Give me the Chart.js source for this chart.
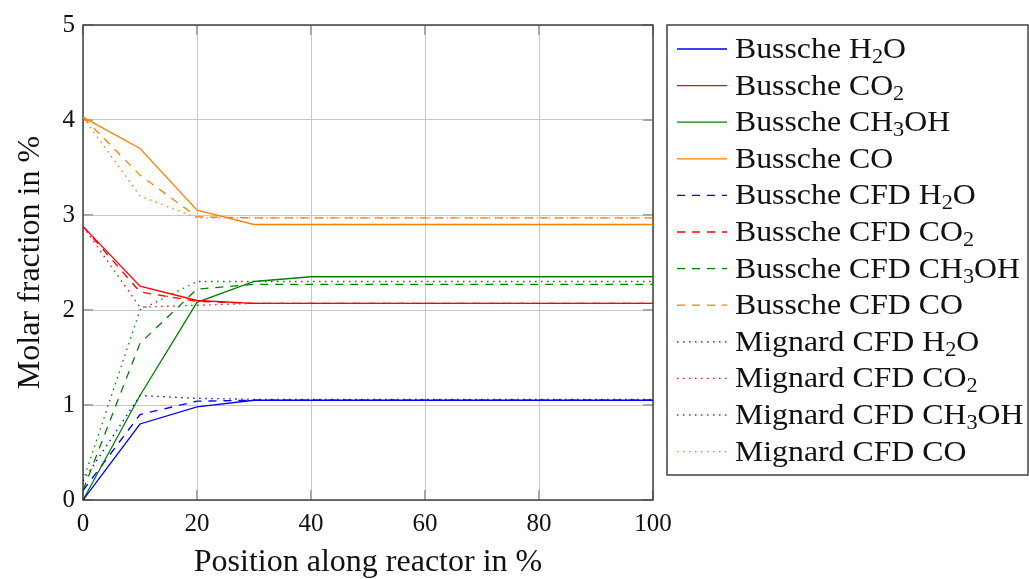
<!DOCTYPE html>
<html lang="en">
<head>
  <meta charset="UTF-8">
  <title>Molar fraction along reactor</title>
  <script src="https://cdn.jsdelivr.net/npm/chart.js"></script>
  <style>
    body { margin: 0; background: #fff; }
    #molarChart { display: block; }
  </style>
</head>
<body>
<canvas id="molarChart" width="1029" height="579"></canvas>
<script>
  // positions along the reactor (%)
  var positions = [0, 10, 20, 30, 40, 50, 60, 70, 80, 90, 100];

  // Bussche kinetic model
  var busscheH2O   = [0, 0.80, 0.98, 1.05, 1.05, 1.05, 1.05, 1.05, 1.05, 1.05, 1.05];
  var busscheCO2   = [2.88, 2.25, 2.10, 2.07, 2.07, 2.07, 2.07, 2.07, 2.07, 2.07, 2.07];
  var busscheCH3OH = [0, 1.10, 2.08, 2.30, 2.35, 2.35, 2.35, 2.35, 2.35, 2.35, 2.35];
  var busscheCO    = [4.03, 3.70, 3.05, 2.90, 2.90, 2.90, 2.90, 2.90, 2.90, 2.90, 2.90];

  // Bussche CFD
  var cfdH2O   = [0.10, 0.90, 1.04, 1.05, 1.05, 1.05, 1.05, 1.05, 1.05, 1.05, 1.05];
  var cfdCO2   = [2.88, 2.19, 2.09, 2.07, 2.07, 2.07, 2.07, 2.07, 2.07, 2.07, 2.07];
  var cfdCH3OH = [0.10, 1.65, 2.22, 2.27, 2.27, 2.27, 2.27, 2.27, 2.27, 2.27, 2.27];
  var cfdCO    = [4.03, 3.42, 2.98, 2.97, 2.97, 2.97, 2.97, 2.97, 2.97, 2.97, 2.97];

  // Mignard CFD
  var mignardH2O   = [0.20, 1.10, 1.07, 1.06, 1.06, 1.06, 1.06, 1.06, 1.06, 1.06, 1.06];
  var mignardCO2   = [2.88, 2.03, 2.05, 2.07, 2.07, 2.07, 2.07, 2.07, 2.07, 2.07, 2.07];
  var mignardCH3OH = [0.20, 2.00, 2.30, 2.30, 2.30, 2.30, 2.30, 2.30, 2.30, 2.30, 2.30];
  var mignardCO    = [4.03, 3.20, 2.97, 2.97, 2.97, 2.97, 2.97, 2.97, 2.97, 2.97, 2.97];

  var xTicks = [0, 20, 40, 60, 80, 100];
  var yTicks = [0, 1, 2, 3, 4, 5];

  // "_" marks the next character as a subscript
  var seriesLabels = [
    'Bussche H_2O', 'Bussche CO_2', 'Bussche CH_3OH', 'Bussche CO',
    'Bussche CFD H_2O', 'Bussche CFD CO_2', 'Bussche CFD CH_3OH', 'Bussche CFD CO',
    'Mignard CFD H_2O', 'Mignard CFD CO_2', 'Mignard CFD CH_3OH', 'Mignard CFD CO'
  ];

  var blue = '#0000ff', red = '#ff0000', green = '#008000', orange = '#ff8000';
  var DASHED = [8, 7];
  var DOTTED = [1.5, 4.5];
  var serif = "'Liberation Serif', 'DejaVu Serif', serif";

  function toPoints(values) {
    return values.map(function (v, i) { return { x: positions[i], y: v }; });
  }

  function series(label, values, color, dash) {
    return {
      label: label,
      data: toPoints(values),
      borderColor: color,
      backgroundColor: color,
      borderWidth: 1.3,
      borderDash: dash,
      pointRadius: 0,
      tension: 0,
      fill: false
    };
  }

  var datasets = [
    series(seriesLabels[0], busscheH2O, blue, []),
    series(seriesLabels[1], busscheCO2, red, []),
    series(seriesLabels[2], busscheCH3OH, green, []),
    series(seriesLabels[3], busscheCO, orange, []),
    series(seriesLabels[4], cfdH2O, blue, DASHED),
    series(seriesLabels[5], cfdCO2, red, DASHED),
    series(seriesLabels[6], cfdCH3OH, green, DASHED),
    series(seriesLabels[7], cfdCO, orange, DASHED),
    series(seriesLabels[8], mignardH2O, blue, DOTTED),
    series(seriesLabels[9], mignardCO2, red, DOTTED),
    series(seriesLabels[10], mignardCH3OH, green, DOTTED),
    series(seriesLabels[11], mignardCO, orange, DOTTED)
  ];

  // draws text where "_x" puts x as subscript (x,y are in the scaled space)
  function drawSubText(ctx, text, x, y, size) {
    var i = 0;
    while (i < text.length) {
      var ch = text[i];
      if (ch === '_' && i + 1 < text.length) {
        ctx.font = Math.round(size * 0.7) + 'px ' + serif;
        ctx.fillText(text[i + 1], x, y + 5);
        x += ctx.measureText(text[i + 1]).width;
        i += 2;
      } else {
        ctx.font = size + 'px ' + serif;
        ctx.fillText(ch, x, y);
        x += ctx.measureText(ch).width;
        i += 1;
      }
    }
  }

  // frame + inner tick marks, drawn under the lines
  var framePlugin = {
    id: 'frame',
    beforeDatasetsDraw: function (chart) {
      var ctx = chart.ctx, a = chart.chartArea;
      var xs = chart.scales.x, ys = chart.scales.y;
      ctx.save();
      ctx.strokeStyle = '#a8a8a8';
      ctx.lineWidth = 2;
      xTicks.forEach(function (t) {
        var px = xs.getPixelForValue(t);
        ctx.beginPath();
        ctx.moveTo(px, a.bottom); ctx.lineTo(px, a.bottom - 10);
        ctx.moveTo(px, a.top); ctx.lineTo(px, a.top + 10);
        ctx.stroke();
      });
      yTicks.forEach(function (t) {
        var py = ys.getPixelForValue(t);
        ctx.beginPath();
        ctx.moveTo(a.left, py); ctx.lineTo(a.left + 10, py);
        ctx.moveTo(a.right, py); ctx.lineTo(a.right - 10, py);
        ctx.stroke();
      });
      ctx.strokeStyle = '#404040';
      ctx.lineWidth = 1.5;
      ctx.strokeRect(a.left, a.top, a.right - a.left, a.bottom - a.top);
      ctx.restore();
    }
  };

  // legend box with subscripts
  var legendPlugin = {
    id: 'subLegend',
    afterDraw: function (chart) {
      var ctx = chart.ctx;
      var boxX = 667, boxY = 25, boxW = 361, boxH = 450;
      var rowY0 = 49, rowStep = 36.6;
      var stretch = 1.06;
      ctx.save();
      ctx.fillStyle = '#fff';
      ctx.fillRect(boxX, boxY, boxW, boxH);
      ctx.strokeStyle = '#404040';
      ctx.lineWidth = 1.5;
      ctx.strokeRect(boxX, boxY, boxW, boxH);
      chart.data.datasets.forEach(function (ds, i) {
        var y = rowY0 + i * rowStep;
        ctx.beginPath();
        ctx.strokeStyle = ds.borderColor;
        ctx.lineWidth = ds.borderWidth;
        ctx.setLineDash(ds.borderDash);
        ctx.moveTo(677, y);
        ctx.lineTo(727, y);
        ctx.stroke();
        ctx.setLineDash([]);
        ctx.save();
        ctx.translate(735, y + 9);
        ctx.scale(stretch, 1);
        ctx.fillStyle = '#111';
        ctx.textBaseline = 'alphabetic';
        ctx.textAlign = 'left';
        drawSubText(ctx, ds.label, 0, 0, 30);
        ctx.restore();
      });
      ctx.restore();
    }
  };

  new Chart(document.getElementById('molarChart'), {
    type: 'line',
    data: { datasets: datasets },
    plugins: [framePlugin, legendPlugin],
    options: {
      responsive: false,
      animation: false,
      layout: { padding: { left: 0, top: 25, right: 376, bottom: 0 } },
      plugins: {
        legend: { display: false },
        tooltip: { enabled: false }
      },
      scales: {
        x: {
          type: 'linear',
          min: 0,
          max: 100,
          afterFit: function (scale) { scale.height = 79; },
          afterBuildTicks: function (scale) {
            scale.ticks = xTicks.map(function (v) { return { value: v }; });
          },
          grid: { color: '#c8c8c8', lineWidth: 1, drawTicks: false },
          border: { display: false },
          ticks: {
            padding: 9,
            color: '#111',
            maxRotation: 0,
            font: { family: serif, size: 25 }
          },
          title: {
            display: true,
            text: 'Position along reactor in %',
            color: '#111',
            padding: 0,
            font: { family: serif, size: 32, lineHeight: 1.0 }
          }
        },
        y: {
          min: 0,
          max: 5,
          afterFit: function (scale) { scale.width = 83; },
          afterBuildTicks: function (scale) {
            scale.ticks = yTicks.map(function (v) { return { value: v }; });
          },
          grid: { color: '#c8c8c8', lineWidth: 1, drawTicks: false },
          border: { display: false },
          ticks: {
            padding: 8,
            color: '#111',
            font: { family: serif, size: 25 }
          },
          title: {
            display: true,
            text: 'Molar fraction in %',
            color: '#111',
            padding: { top: 11, bottom: 0 },
            font: { family: serif, size: 32, lineHeight: 1.2 }
          }
        }
      }
    }
  });
</script>
</body>
</html>
